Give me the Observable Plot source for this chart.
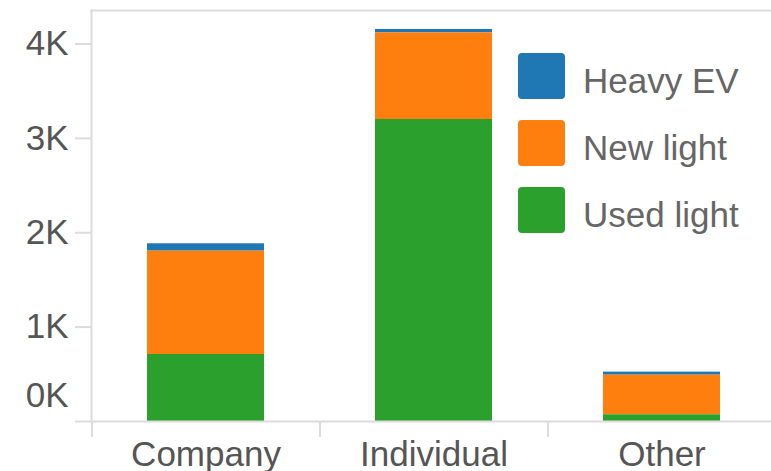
<!DOCTYPE html>
<html>
<head>
<meta charset="utf-8">
<script src="https://cdn.jsdelivr.net/npm/d3@7"></script>
<script src="https://cdn.jsdelivr.net/npm/@observablehq/plot@0.6"></script>
<style>
  html, body { margin: 0; padding: 0; background: #fff; }
  #wrap { position: relative; width: 771px; height: 471px; overflow: hidden; font-family: "Liberation Sans", Arial, sans-serif; }
  #legend { position: absolute; left: 518px; top: 53px; }
  .row { display: flex; align-items: center; height: 46px; margin-bottom: 21px; }
  .sw { width: 47px; height: 46px; border-radius: 4px; }
  .lab { margin-left: 18px; font-size: 35px; color: #666; position: relative; top: 5px; white-space: nowrap; }
</style>
</head>
<body>
<div id="wrap"></div>
<script>
const categories = ["Company", "Individual", "Other"];
const series = ["Heavy EV", "New light", "Used light"];
const colors = ["#1f77b4", "#ff7f0e", "#2ca02c"];
const heavyEV   = [78, 36, 32];
const newLight  = [1095, 918, 420];
const usedLight = [710, 3200, 71];
const yTicks = [0, 1000, 2000, 3000, 4000];

const valuesBySeries = {"Heavy EV": heavyEV, "New light": newLight, "Used light": usedLight};
const data = [];
for (const s of series) categories.forEach((c, i) => data.push({category: c, series: s, value: valuesBySeries[s][i]}));

const xRange = [91, 775];
const step = (xRange[1] - xRange[0]) / categories.length;
const grid = "#dcdcdc";
const ink = "#555";

const chart = Plot.plot({
  width: 771,
  height: 471,
  marginTop: 10,
  marginBottom: 50,
  marginLeft: 91,
  marginRight: 0,
  style: {fontFamily: "'Liberation Sans', Arial, sans-serif", background: "#fff"},
  x: {domain: categories, range: xRange, paddingInner: 0.487, paddingOuter: 0.2435, label: null},
  y: {domain: [0, 4355], label: null},
  color: {domain: series, range: colors},
  marks: [
    Plot.frame({anchor: "top", stroke: grid, strokeWidth: 2}),
    Plot.frame({anchor: "left", stroke: grid, strokeWidth: 2}),
    Plot.barY(data, {x: "category", y: "value", fill: "series", order: ["Used light", "New light", "Heavy EV"]}),
    Plot.ruleY([0], {stroke: grid, strokeWidth: 2}),
    Plot.axisY({ticks: yTicks, tickSize: 16, tickPadding: 7, tickFormat: d => d ? d / 1000 + "K" : "", stroke: grid, strokeWidth: 2, fill: ink, fontSize: 35}),
    Plot.text([0], {y: d => d, text: () => "0K", frameAnchor: "left", textAnchor: "end", dx: -23, dy: -26, fontSize: 35, fill: ink}),
    Plot.axisX({tickSize: 16, dx: -step / 2, tickFormat: () => "", stroke: grid, strokeWidth: 2}),
    Plot.axisX({tickSize: 0, tickPadding: 20, fill: ink, fontSize: 35})
  ]
});

const wrap = document.getElementById("wrap");
wrap.appendChild(chart);

const legend = document.createElement("div");
legend.id = "legend";
series.forEach((s, i) => {
  const row = document.createElement("div");
  row.className = "row";
  const sw = document.createElement("div");
  sw.className = "sw";
  sw.style.background = colors[i];
  const lab = document.createElement("span");
  lab.className = "lab";
  lab.textContent = s;
  row.appendChild(sw);
  row.appendChild(lab);
  legend.appendChild(row);
});
wrap.appendChild(legend);
</script>
</body>
</html>
